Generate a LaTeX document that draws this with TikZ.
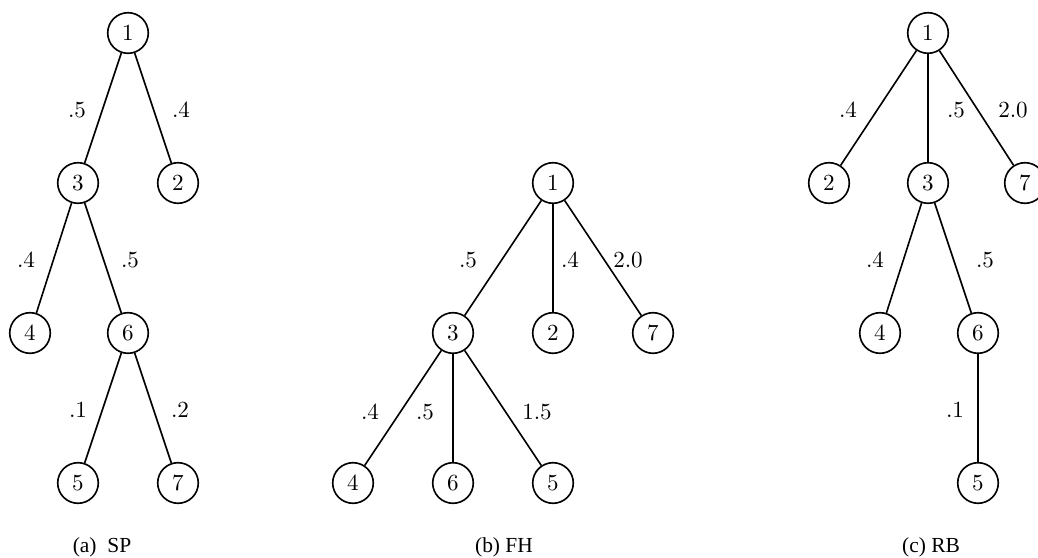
\documentclass[tikz,border=0pt]{standalone}
\usepackage{fontspec}
\newfontfamily\capfont{Liberation Serif}
\begin{document}
\begin{tikzpicture}[x=0.4336pt,y=-0.4336pt,
  vertex/.style={draw,circle,line width=0.7pt,minimum size=17.6pt,inner sep=0pt,font=\normalsize},
  wlabel/.style={inner sep=0pt,font=\normalsize},
  link/.style={line width=0.7pt},
  caption/.style={inner sep=0pt,font=\capfont\fontsize{9.3pt}{11pt}\selectfont}]
\useasboundingbox (0,0) rectangle (1038,558);

% (a) SP
\node[vertex] (a1) at (128,33) {1};
\node[vertex] (a3) at (78,183) {3};
\node[vertex] (a2) at (178,183) {2};
\node[vertex] (a4) at (30,333) {4};
\node[vertex] (a6) at (128,333) {6};
\node[vertex] (a5) at (78,483) {5};
\node[vertex] (a7) at (178,483) {7};
\draw[link] (a1) -- (a3);
\draw[link] (a1) -- (a2);
\draw[link] (a3) -- (a4);
\draw[link] (a3) -- (a6);
\draw[link] (a6) -- (a5);
\draw[link] (a6) -- (a7);
\node[wlabel] (la13) at (77,110) {.5};
\node[wlabel] (la12) at (181,110) {.4};
\node[wlabel] (la34) at (26,260) {.4};
\node[wlabel] (la36) at (130,260) {.5};
\node[wlabel] (la65) at (78,410) {.1};
\node[wlabel] (la67) at (180,410) {.2};
\node[caption] (capa) at (102,547) {(a)\ \ SP};

% (b) FH
\node[vertex] (b1) at (553,183) {1};
\node[vertex] (b3) at (453,333) {3};
\node[vertex] (b2) at (553,333) {2};
\node[vertex] (b7) at (653,333) {7};
\node[vertex] (b4) at (353,483) {4};
\node[vertex] (b6) at (453,483) {6};
\node[vertex] (b5) at (553,483) {5};
\draw[link] (b1) -- (b3);
\draw[link] (b1) -- (b2);
\draw[link] (b1) -- (b7);
\draw[link] (b3) -- (b4);
\draw[link] (b3) -- (b6);
\draw[link] (b3) -- (b5);
\node[wlabel] (lb13) at (468,260) {.5};
\node[wlabel] (lb12) at (570,260) {.4};
\node[wlabel] (lb17) at (628,260) {2.0};
\node[wlabel] (lb34) at (370,412) {.4};
\node[wlabel] (lb36) at (425,412) {.5};
\node[wlabel] (lb35) at (537,412) {1.5};
\node[caption] (capb) at (504,547) {(b)\ FH};

% (c) RB
\node[vertex] (c1) at (928,33) {1};
\node[vertex] (c2) at (829,183) {2};
\node[vertex] (c3) at (928,183) {3};
\node[vertex] (c7) at (1025,183) {7};
\node[vertex] (c4) at (880,333) {4};
\node[vertex] (c6) at (978,333) {6};
\node[vertex] (c5) at (978,483) {5};
\draw[link] (c1) -- (c2);
\draw[link] (c1) -- (c3);
\draw[link] (c1) -- (c7);
\draw[link] (c3) -- (c4);
\draw[link] (c3) -- (c6);
\draw[link] (c6) -- (c5);
\node[wlabel] (lc12) at (848,110) {.4};
\node[wlabel] (lc13) at (956,110) {.5};
\node[wlabel] (lc17) at (1013,110) {2.0};
\node[wlabel] (lc34) at (875,260) {.4};
\node[wlabel] (lc36) at (985,260) {.5};
\node[wlabel] (lc65) at (955,410) {.1};
\node[caption] (capc) at (931,547) {(c)\ RB};
\end{tikzpicture}
\end{document}
